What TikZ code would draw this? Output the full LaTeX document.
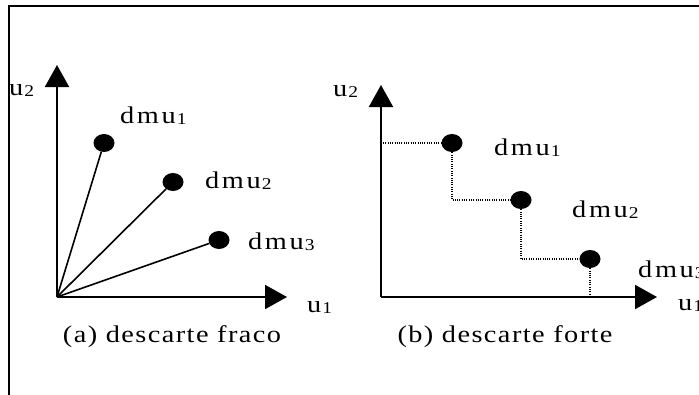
\documentclass[tikz,border=0pt]{standalone}
\usepackage{fontspec}
\setmainfont{Liberation Serif}
\newfontfamily\lblfont[LetterSpace=6,FakeStretch=1.18]{Liberation Serif}
\newfontfamily\symlblfont[LetterSpace=11,FakeStretch=1.18]{Liberation Serif}
\usetikzlibrary{arrows.meta,shapes.geometric}
\newcommand\subs[1]{\kern1pt\raisebox{-1pt}{\fontsize{16.5}{16.5}\selectfont #1}}
\begin{document}
\begin{tikzpicture}[x=1pt,y=-1pt,
  txt/.style={inner sep=0pt,anchor=base west,font=\fontsize{24}{24}\selectfont\symlblfont},
  capt/.style={inner sep=0pt,anchor=base,font=\fontsize{24}{24}\selectfont\lblfont},
  dmu/.style={ellipse,fill=black,minimum width=21pt,minimum height=18pt,inner sep=0pt},
  axis/.style={line width=2pt,-{Triangle[length=22pt,width=24pt]}},
  ray/.style={line width=1.6pt},
  guide/.style={line width=1.5pt,dash pattern=on 1pt off 1.3pt}]
\useasboundingbox (0,0) rectangle (699,394);
% frame
\draw[line width=2pt] (9,395) -- (9,6) -- (700,6);
% ---- panel (a)
\coordinate (O1) at (57,297);
\coordinate (Y1) at (57,65);
\coordinate (X1) at (287,297);
\draw[axis] (O1) -- (Y1);
\draw[axis] (O1) -- (X1);
\node[dmu] (a1) at (104,143) {};
\node[dmu] (a2) at (173,182) {};
\node[dmu] (a3) at (219,240) {};
\draw[ray] (O1) -- (a1);
\draw[ray] (O1) -- (a2);
\draw[ray] (O1) -- (a3);
\node[txt] (la1) at (120,123) {dmu\subs{1}};
\node[txt] (la2) at (205,188) {dmu\subs{2}};
\node[txt] (la3) at (248,249) {dmu\subs{3}};
\node[txt] (ua2) at (9,95) {u\subs{2}};
\node[txt] (ua1) at (307,312) {u\subs{1}};
\node[capt] (capa) at (172,342) {(a) descarte fraco};
% ---- panel (b)
\coordinate (O2) at (381,297);
\coordinate (Y2) at (381,85);
\coordinate (X2) at (657,297);
\draw[axis] (O2) -- (Y2);
\draw[axis] (O2) -- (X2);
\node[dmu] (b1) at (452,143) {};
\node[dmu] (b2) at (521,200) {};
\node[dmu] (b3) at (590,259) {};
\coordinate (g0) at (383,143);
\draw[guide] (g0) -- (b1.west);
\draw[guide] (b1.south) |- (b2.west);
\draw[guide] (b2.south) |- (b3.west);
\draw[guide] (b3.south) -- (b3.south |- O2);
\node[txt] (lb1) at (494,155) {dmu\subs{1}};
\node[txt] (lb2) at (572,217) {dmu\subs{2}};
\node[txt] (lb3) at (638,277) {dmu\subs{3}};
\node[txt] (ub2) at (333,96) {u\subs{2}};
\node[txt] (ub1) at (678,310) {u\subs{1}};
\node[capt] (capb) at (505,342) {(b) descarte forte};
\end{tikzpicture}
\end{document}
